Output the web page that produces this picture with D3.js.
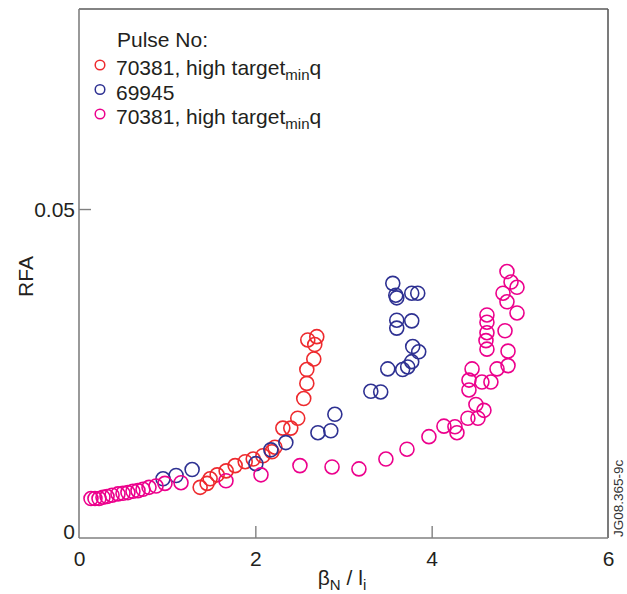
<!DOCTYPE html>
<html>
<head>
<meta charset="utf-8">
<script src="https://cdn.jsdelivr.net/npm/d3@7"></script>
<style>
  html, body { margin: 0; padding: 0; background: #fff; }
  svg { display: block; font-family: "Liberation Sans", Arial, Helvetica, sans-serif; }
</style>
</head>
<body>
<svg id="chart" width="627" height="594"></svg>
<script>
// ---- Data ----
const xTicks = [0, 2, 4, 6];
const yTicks = [0, 0.05];
const yTickLabels = ["0", "0.05"];

// Pulse 70381 (red)
const redX = [1.374, 1.453, 1.487, 1.567, 1.669, 1.771, 1.885, 1.976, 2.086, 2.188, 2.222, 2.312, 2.402, 2.481, 2.549, 2.584, 2.584, 2.663, 2.674, 2.595, 2.697];
const redY = [0.0077, 0.0083, 0.0090, 0.0096, 0.0102, 0.0110, 0.0116, 0.0120, 0.0125, 0.0131, 0.0138, 0.0167, 0.0167, 0.0182, 0.0212, 0.0235, 0.0256, 0.0272, 0.0294, 0.0301, 0.0306];

// Pulse 69945 (blue)
const blueX = [0.953, 1.101, 1.283, 2.006, 2.176, 2.346, 2.710, 2.856, 2.902, 3.310, 3.422, 3.502, 3.671, 3.728, 3.774, 3.785, 3.853, 3.604, 3.604, 3.774, 3.559, 3.593, 3.604, 3.774, 3.842];
const blueY = [0.0090, 0.0095, 0.0104, 0.0113, 0.0134, 0.0145, 0.0160, 0.0163, 0.0188, 0.0223, 0.0222, 0.0257, 0.0256, 0.0260, 0.0268, 0.0291, 0.0283, 0.0319, 0.0331, 0.0330, 0.0387, 0.0369, 0.0365, 0.0372, 0.0372];

// Pulse 70381 (magenta)
const pinkX = [0.136, 0.181, 0.227, 0.272, 0.318, 0.375, 0.442, 0.499, 0.555, 0.612, 0.669, 0.726, 0.794, 0.874, 0.975, 1.157, 1.667, 2.064, 2.506, 2.870, 3.175, 3.481, 3.720, 3.969, 4.139, 4.264, 4.287, 4.411, 4.525, 4.502, 4.593, 4.423, 4.423, 4.458, 4.570, 4.672, 4.741, 4.866, 4.866, 4.832, 4.968, 4.627, 4.616, 4.627, 4.627, 4.627, 4.809, 4.854, 4.900, 4.968, 4.854];
const pinkY = [0.0060, 0.0060, 0.0060, 0.0062, 0.0063, 0.0065, 0.0067, 0.0068, 0.0069, 0.0071, 0.0072, 0.0074, 0.0077, 0.0079, 0.0083, 0.0084, 0.0087, 0.0096, 0.0110, 0.0108, 0.0105, 0.0120, 0.0135, 0.0154, 0.0170, 0.0169, 0.0160, 0.0182, 0.0182, 0.0203, 0.0194, 0.0225, 0.0240, 0.0257, 0.0237, 0.0237, 0.0257, 0.0262, 0.0284, 0.0315, 0.0342, 0.0287, 0.0300, 0.0312, 0.0328, 0.0339, 0.0372, 0.0359, 0.0389, 0.0381, 0.0405];

const seriesNames = ["70381, high target", "69945", "70381, high target"];
const seriesSub = ["min", "", "min"];
const seriesTail = ["q", "", "q"];
const seriesColors = ["#ee2a2e", "#2e3192", "#ec008c"];

// ---- Layout ----
const svg = d3.select("#chart");
const L = 79, R = 608, T = 9, B = 538;

const x = d3.scaleLinear().domain([0, 6]).range([L, R]);
const y = d3.scaleLinear().domain([0, 0.0804]).range([B, T]);

const frameLight = "#808080";
const frameDark = "#5a5a5a";

// frame: top/right darker, left/bottom lighter
svg.append("line").attr("x1", L).attr("x2", R).attr("y1", T).attr("y2", T)
  .attr("stroke", frameDark).attr("stroke-width", 1.6);
svg.append("line").attr("x1", R).attr("x2", R).attr("y1", T).attr("y2", B)
  .attr("stroke", frameDark).attr("stroke-width", 1.6);
svg.append("line").attr("x1", L).attr("x2", L).attr("y1", T).attr("y2", B)
  .attr("stroke", frameLight).attr("stroke-width", 1.6);
svg.append("line").attr("x1", L).attr("x2", R).attr("y1", B).attr("y2", B)
  .attr("stroke", frameLight).attr("stroke-width", 1.6);

// x axis ticks (inward) & labels
const xAxis = d3.axisBottom(x).tickValues(xTicks).tickSize(-12).tickPadding(8).tickFormat(d3.format("d"));
const gx = svg.append("g").attr("transform", `translate(0,${B})`).call(xAxis);
gx.select(".domain").remove();
gx.selectAll(".tick line").attr("stroke", frameLight).attr("stroke-width", 1.4)
  .filter(d => d === 0 || d === 6).remove();
gx.selectAll(".tick text").attr("font-size", 21).attr("fill", "#231f20")
  .attr("font-family", "Liberation Sans, Arial, sans-serif").attr("dy", "0.95em");

// y axis ticks & labels
const yAxis = d3.axisLeft(y).tickValues(yTicks).tickSize(-12).tickPadding(4)
  .tickFormat((d, i) => yTickLabels[i]);
const gy = svg.append("g").attr("transform", `translate(${L},0)`).call(yAxis);
gy.select(".domain").remove();
gy.selectAll(".tick line").attr("stroke", frameLight).attr("stroke-width", 1.4)
  .filter(d => d === 0).remove();
gy.selectAll(".tick text").attr("font-size", 21).attr("fill", "#231f20")
  .attr("font-family", "Liberation Sans, Arial, sans-serif")
  .attr("dy", d => d === 0 ? "0" : "0.36em");

// axis titles
svg.append("text").attr("transform", `translate(33,${(T + B) / 2 + 3}) rotate(-90)`)
  .attr("text-anchor", "middle").attr("font-size", 21).attr("fill", "#231f20").text("RFA");

const xt = svg.append("text").attr("x", 342).attr("y", 585).attr("text-anchor", "middle")
  .attr("font-size", 21).attr("fill", "#231f20");
xt.append("tspan").text("β");
xt.append("tspan").attr("font-size", 15).attr("dy", 5).text("N");
xt.append("tspan").attr("dy", -5).text(" / l");
xt.append("tspan").attr("font-size", 15).attr("dy", 5).text("i");

// side code
svg.append("text").attr("transform", `translate(623,537) rotate(-90)`)
  .attr("font-size", 13.5).attr("fill", "#333").text("JG08.365-9c");

// ---- marks ----
const series = [
  { xs: redX, ys: redY, color: seriesColors[0] },
  { xs: blueX, ys: blueY, color: seriesColors[1] },
  { xs: pinkX, ys: pinkY, color: seriesColors[2] }
];
const plot = svg.append("g");
series.forEach(s => {
  const pts = s.xs.map((v, i) => [v, s.ys[i]]);
  plot.selectAll(null).data(pts).enter().append("circle")
    .attr("cx", d => x(d[0])).attr("cy", d => y(d[1])).attr("r", 7)
    .attr("fill", "none").attr("stroke", s.color).attr("stroke-width", 1.6);
});

// ---- legend ----
const lg = svg.append("g");
lg.append("text").attr("x", 117).attr("y", 47).attr("font-size", 21).attr("fill", "#231f20").text("Pulse No:");
seriesNames.forEach((name, i) => {
  const by = 75 + i * 24.5;
  lg.append("circle").attr("cx", 100).attr("cy", by - 10).attr("r", 4.8)
    .attr("fill", "none").attr("stroke", seriesColors[i]).attr("stroke-width", 1.5);
  const t = lg.append("text").attr("x", 116).attr("y", by).attr("font-size", 21).attr("fill", "#231f20");
  t.append("tspan").text(name);
  if (seriesSub[i]) {
    t.append("tspan").attr("font-size", 15).attr("dy", 5).text(seriesSub[i]);
    t.append("tspan").attr("dy", -5).text(seriesTail[i]);
  }
});
</script>
</body>
</html>
